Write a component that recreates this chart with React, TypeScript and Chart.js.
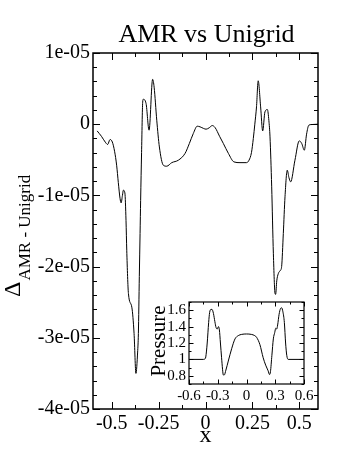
import React, { useEffect, useRef } from "react";
import { Chart, registerables } from "chart.js";

Chart.register(...registerables);

// ---------- data ----------
const titleText = "AMR vs Unigrid";
const xAxisLabel = "x";
const yAxisSymbol = "Δ";
const yAxisSub = "AMR - Unigrid";
const insetYLabel = "Pressure";

// main curve: x position and difference (in units of 1e-05)
const mainX = [
  -0.578, -0.555, -0.535, -0.522, -0.509, -0.497, -0.485, -0.474, -0.465, -0.456,
  -0.45, -0.443, -0.438, -0.43, -0.424, -0.42, -0.411, -0.393, -0.381, -0.371,
  -0.362, -0.358, -0.353, -0.349, -0.346, -0.341, -0.335, -0.332, -0.317, -0.301,
  -0.282, -0.274, -0.26, -0.246, -0.225, -0.207, -0.18, -0.145, -0.109, -0.086,
  -0.065, -0.044, -0.029, -0.01, 0.003, 0.02, 0.036, 0.051, 0.075, 0.095,
  0.122, 0.152, 0.184, 0.219, 0.232, 0.245, 0.255, 0.263, 0.272, 0.281,
  0.294, 0.305, 0.317, 0.33, 0.338, 0.344, 0.353, 0.362, 0.371, 0.374,
  0.38, 0.388, 0.4, 0.406, 0.415, 0.424, 0.436, 0.445, 0.454, 0.477,
  0.5, 0.513, 0.527, 0.539, 0.551, 0.565, 0.6,
];
const mainY = [
  -0.094, -0.17, -0.25, -0.285, -0.215, -0.25, -0.38, -0.576, -0.82, -1.04,
  -1.105, -1.0, -0.927, -0.965, -1.35, -1.77, -2.38, -2.57, -2.94, -3.5,
  -3.2, -2.94, -2.14, -1.535, -1.07, -0.4, 0.31, 0.35, 0.29, -0.084,
  0.63, 0.52, 0.056, -0.32, -0.576, -0.59, -0.54, -0.506, -0.41, -0.27,
  -0.13, -0.028, -0.037, -0.06, -0.07, -0.05, -0.019, -0.047, -0.17, -0.27,
  -0.41, -0.53, -0.54, -0.54, -0.506, -0.4, -0.2, 0.0, 0.243, 0.61,
  0.243, -0.094, 0.173, 0.206, 0.05, -0.178, -0.88, -1.82, -2.38, -2.39,
  -2.2, -2.1, -2.05, -2.0, -1.535, -1.02, -0.646, -0.75, -0.81, -0.506,
  -0.234, -0.27, -0.365, -0.14, -0.014, -0.005, 0,
];

// inset: pressure profile
const insetX = [
  -0.6, -0.45, -0.435, -0.425, -0.41, -0.395, -0.385, -0.37, -0.36, -0.345,
  -0.33, -0.318, -0.305, -0.293, -0.283, -0.272, -0.26, -0.25, -0.242, -0.232,
  -0.215, -0.19, -0.155, -0.12, -0.086, -0.05, 0, 0.05, 0.086, 0.105,
  0.14, 0.174, 0.2, 0.226, 0.24, 0.25, 0.265, 0.28, 0.295, 0.305,
  0.315, 0.325, 0.34, 0.355, 0.366, 0.38, 0.395, 0.408, 0.42, 0.435, 0.6,
];
const insetP = [
  1.0, 1.0, 1.005, 1.03, 1.2, 1.45, 1.57, 1.61, 1.61, 1.56,
  1.46, 1.39, 1.37, 1.4, 1.36, 1.2, 1.02, 0.88, 0.81, 0.81,
  0.87, 0.98, 1.13, 1.25, 1.29, 1.305, 1.31, 1.305, 1.29, 1.27,
  1.18, 1.02, 0.93, 0.86, 0.815, 0.85, 1.05, 1.25, 1.33, 1.38,
  1.37, 1.42, 1.55, 1.62, 1.63, 1.58, 1.45, 1.2, 1.05, 1.0, 1.0,
];

const mainXTicks = [-0.5, -0.25, 0, 0.25, 0.5];
const mainYTicks = [-4, -3, -2, -1, 0, 1];
const insetXTicks = [-0.6, -0.3, 0, 0.3, 0.6];
const insetYTicks = [0.8, 1, 1.2, 1.4, 1.6];

const FONT = '"Liberation Serif", "Times New Roman", Times, serif';

// ---------- helpers ----------
function fmtNum(v: number) {
  return String(+Number(v).toFixed(3));
}

function frameTicksPlugin(id: string, o: { major: number; minor: number; xDiv: number; yDiv: number; lw: number }) {
  return {
    id,
    afterDatasetsDraw(chart: any) {
      const { ctx, chartArea: a } = chart;
      const xs = chart.scales.x;
      const ys = chart.scales.y;
      ctx.save();
      ctx.strokeStyle = "#000";
      ctx.lineWidth = 1;
      const drawAxis = (scale: any, div: number, horiz: boolean) => {
        const t = scale.ticks.map((k: any) => k.value);
        const step = t[1] - t[0];
        const ms = step / div;
        const iStart = Math.ceil((scale.min - t[0]) / ms - 1e-6);
        const iEnd = Math.floor((scale.max - t[0]) / ms + 1e-6);
        for (let i = iStart; i <= iEnd; i++) {
          const v = t[0] + i * ms;
          const isMajor = ((i % div) + div) % div === 0;
          const len = isMajor ? o.major : o.minor;
          const p = Math.round(scale.getPixelForValue(v)) + 0.5;
          ctx.beginPath();
          if (horiz) {
            ctx.moveTo(p, a.bottom);
            ctx.lineTo(p, a.bottom - len);
            ctx.moveTo(p, a.top);
            ctx.lineTo(p, a.top + len);
          } else {
            ctx.moveTo(a.left, p);
            ctx.lineTo(a.left + len, p);
            ctx.moveTo(a.right, p);
            ctx.lineTo(a.right - len, p);
          }
          ctx.stroke();
        }
      };
      drawAxis(xs, o.xDiv, true);
      drawAxis(ys, o.yDiv, false);
      ctx.lineWidth = o.lw;
      ctx.strokeRect(a.left, a.top, a.right - a.left, a.bottom - a.top);
      ctx.restore();
    },
  };
}

const mainTextPlugin = {
  id: "mainText",
  afterDraw(chart: any) {
    const { ctx, chartArea: a } = chart;
    ctx.save();
    ctx.fillStyle = "#000";
    // title
    ctx.font = `26px ${FONT}`;
    ctx.textAlign = "center";
    ctx.textBaseline = "alphabetic";
    ctx.fillText(titleText, (a.left + a.right) / 2 + 1, 42);
    // x label
    ctx.font = `24px ${FONT}`;
    ctx.fillText(xAxisLabel, (a.left + a.right) / 2, 442);
    // y label with subscript
    ctx.translate(20, 297);
    ctx.rotate(-Math.PI / 2);
    ctx.textAlign = "left";
    ctx.font = `24px ${FONT}`;
    ctx.fillText(yAxisSymbol, 0, 0);
    const w = ctx.measureText(yAxisSymbol).width;
    ctx.font = `17px ${FONT}`;
    ctx.fillText(yAxisSub, w + 1, 10);
    ctx.restore();
  },
};

const insetTextPlugin = {
  id: "insetText",
  afterDraw(chart: any) {
    const { ctx, chartArea: a } = chart;
    ctx.save();
    ctx.fillStyle = "#000";
    ctx.translate(25, (a.top + a.bottom) / 2 - 2);
    ctx.rotate(-Math.PI / 2);
    ctx.textAlign = "center";
    ctx.textBaseline = "alphabetic";
    ctx.font = `21px ${FONT}`;
    ctx.fillText(insetYLabel, 0, 0);
    ctx.restore();
  },
};

export default function App() {
  const mainRef = useRef<HTMLCanvasElement | null>(null);
  const insetRef = useRef<HTMLCanvasElement | null>(null);

  useEffect(() => {
    const mainData = mainX.map((x, i) => ({ x, y: mainY[i] }));
    const insetData = insetX.map((x, i) => ({ x, y: insetP[i] }));

    const main = new Chart(mainRef.current as HTMLCanvasElement, {
      type: "line",
      data: {
        datasets: [
          {
            data: mainData,
            borderColor: "#000",
            borderWidth: 1,
            pointRadius: 0,
            fill: false,
            cubicInterpolationMode: "monotone",
          },
        ],
      },
      options: {
        animation: false,
        responsive: false,
        devicePixelRatio: 1,
        events: [],
        layout: { padding: { top: 53, right: 40, bottom: 0, left: 0 } },
        plugins: {
          legend: { display: false },
          tooltip: { enabled: false },
          title: { display: false },
        },
        scales: {
          x: {
            type: "linear",
            min: -0.6,
            max: 0.6,
            grid: { display: false, drawTicks: false },
            border: { display: false },
            afterBuildTicks: (s: any) => {
              s.ticks = mainXTicks.map((v) => ({ value: v }));
            },
            afterFit: (s: any) => {
              s.height = 54;
            },
            ticks: {
              color: "#000",
              font: { family: FONT, size: 20 },
              padding: 3,
              maxRotation: 0,
              autoSkip: false,
              callback: (v: any) => fmtNum(v),
            },
          },
          y: {
            type: "linear",
            min: -4,
            max: 1,
            grid: { display: false, drawTicks: false },
            border: { display: false },
            afterBuildTicks: (s: any) => {
              s.ticks = mainYTicks.map((v) => ({ value: v }));
            },
            afterFit: (s: any) => {
              s.width = 93;
            },
            ticks: {
              color: "#000",
              font: { family: FONT, size: 20 },
              padding: 3,
              autoSkip: false,
              callback: (v: any) => (Number(v) === 0 ? "0" : `${fmtNum(v)}e-05`),
            },
          },
        },
      },
      plugins: [
        frameTicksPlugin("mainFrame", { major: 7, minor: 4, xDiv: 2, yDiv: 5, lw: 1.5 }),
        mainTextPlugin,
      ],
    } as any);

    const inset = new Chart(insetRef.current as HTMLCanvasElement, {
      type: "line",
      data: {
        datasets: [
          {
            data: insetData,
            borderColor: "#000",
            borderWidth: 1,
            pointRadius: 0,
            fill: false,
            cubicInterpolationMode: "monotone",
          },
        ],
      },
      options: {
        animation: false,
        responsive: false,
        devicePixelRatio: 1,
        events: [],
        layout: { padding: { top: 8, right: 16, bottom: 0, left: 0 } },
        plugins: {
          legend: { display: false },
          tooltip: { enabled: false },
          title: { display: false },
        },
        scales: {
          x: {
            type: "linear",
            min: -0.6,
            max: 0.6,
            grid: { display: false, drawTicks: false },
            border: { display: false },
            afterBuildTicks: (s: any) => {
              s.ticks = insetXTicks.map((v) => ({ value: v }));
            },
            afterFit: (s: any) => {
              s.height = 24;
            },
            ticks: {
              color: "#000",
              font: { family: FONT, size: 15 },
              padding: 3,
              maxRotation: 0,
              autoSkip: false,
              callback: (v: any) => fmtNum(v),
            },
          },
          y: {
            type: "linear",
            min: 0.7,
            max: 1.7,
            grid: { display: false, drawTicks: false },
            border: { display: false },
            afterBuildTicks: (s: any) => {
              s.ticks = insetYTicks.map((v) => ({ value: v }));
            },
            afterFit: (s: any) => {
              s.width = 49;
            },
            ticks: {
              color: "#000",
              font: { family: FONT, size: 15 },
              padding: 3,
              autoSkip: false,
              callback: (v: any) => fmtNum(v),
            },
          },
        },
      },
      plugins: [
        frameTicksPlugin("insetFrame", { major: 4.5, minor: 2.5, xDiv: 2, yDiv: 2, lw: 1.2 }),
        insetTextPlugin,
      ],
    } as any);

    return () => {
      main.destroy();
      inset.destroy();
    };
  }, []);

  return (
    <div style={{ position: "fixed", left: 0, top: 0, width: 358, height: 463, background: "#fff" }}>
      <canvas
        ref={mainRef}
        width={358}
        height={463}
        style={{ position: "absolute", left: 0, top: 0, width: 358, height: 463 }}
      />
      <canvas
        ref={insetRef}
        width={180}
        height={118}
        style={{ position: "absolute", left: 140, top: 290, width: 180, height: 118 }}
      />
    </div>
  );
}
